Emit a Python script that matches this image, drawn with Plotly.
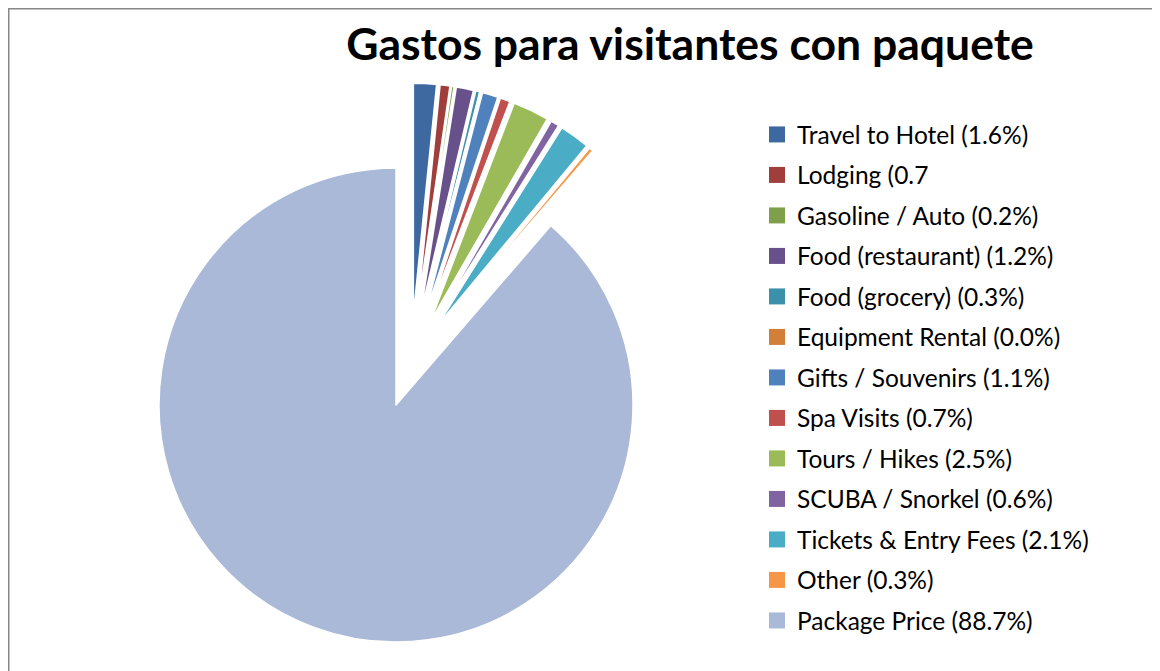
import plotly.graph_objects as go

# ---- data ----
categories = ["Travel to Hotel", "Lodging", "Gasoline / Auto", "Food (restaurant)",
              "Food (grocery)", "Equipment Rental", "Gifts / Souvenirs", "Spa Visits",
              "Tours / Hikes", "SCUBA / Snorkel", "Tickets & Entry Fees", "Other",
              "Package Price"]
legend_labels = ["Travel to Hotel (1.6%)", "Lodging (0.7", "Gasoline / Auto (0.2%)",
                 "Food (restaurant) (1.2%)", "Food (grocery) (0.3%)",
                 "Equipment Rental (0.0%)", "Gifts / Souvenirs (1.1%)",
                 "Spa Visits (0.7%)", "Tours / Hikes (2.5%)", "SCUBA / Snorkel (0.6%)",
                 "Tickets & Entry Fees (2.1%)", "Other (0.3%)", "Package Price (88.7%)"]
values = [1.6, 0.7, 0.2, 1.2, 0.3, 0.04, 1.1, 0.7, 2.5, 0.6, 2.1, 0.3, 88.7]
colors = ["#3D69A0", "#A03E3B", "#809F4A", "#68518A", "#3C91AA", "#D27F3A",
          "#4F81BD", "#C0504D", "#9BBB59", "#8064A2", "#4BACC6", "#F79646",
          "#A9B9D7"]
title_text = "Gastos para visitantes con paquete"

W, H = 1160, 671
n = len(values)
big = n - 1
clear = "rgba(0,0,0,0)"


def fx(px):
    return px / W


def fy(px_from_top):
    return 1 - px_from_top / H


fig = go.Figure()

# Main (non-exploded) slice
fig.add_trace(go.Pie(
    labels=categories, values=values, sort=False, direction="clockwise", rotation=0,
    marker=dict(colors=[clear] * big + [colors[big]],
                line=dict(color="white", width=[0] * big + [1.5])),
    textinfo="none", hoverinfo="label+percent", showlegend=False,
    domain=dict(x=[fx(151), fx(625)], y=[fy(634), fy(160)]),
))

# Exploded small slices
fig.add_trace(go.Pie(
    labels=categories, values=values, sort=False, direction="clockwise", rotation=0,
    marker=dict(colors=colors[:big] + [clear],
                line=dict(color="white", width=[2] * big + [0])),
    pull=[0.177] * big + [0],
    textinfo="none", hoverinfo="label+percent", showlegend=False,
    domain=dict(x=[fx(124), fx(682)], y=[fy(633), fy(75)]),
))

# Legend entries
for i, (lab, col) in enumerate(zip(legend_labels, colors)):
    fig.add_trace(go.Scatter(
        x=[None], y=[None], mode="markers", name=lab, legendgroup=f"g{i}",
        marker=dict(symbol="square", size=16, color=col, line=dict(width=0)),
        showlegend=True, hoverinfo="skip",
    ))

fig.update_layout(
    width=W, height=H,
    margin=dict(l=0, r=0, t=0, b=0),
    paper_bgcolor="white", plot_bgcolor="white",
    xaxis=dict(visible=False), yaxis=dict(visible=False),
    title=dict(text=f"<b>{title_text}</b>", x=fx(682), xanchor="center",
               y=fy(36), yanchor="middle",
               font=dict(family="Lato", size=44.5, color="black")),
    legend=dict(x=fx(749), xanchor="left", y=fy(104), yanchor="top",
                font=dict(family="Lato", size=24.5, color="black"),
                tracegroupgap=5.65, itemwidth=30, bgcolor="rgba(0,0,0,0)"),
    shapes=[dict(type="rect", xref="paper", yref="paper",
                 x0=fx(0.75), x1=1.02, y0=-0.02, y1=fy(0.75),
                 line=dict(color="#878787", width=1.5), fillcolor="rgba(0,0,0,0)",
                 layer="below")],
)

fig.write_html("out.html")
